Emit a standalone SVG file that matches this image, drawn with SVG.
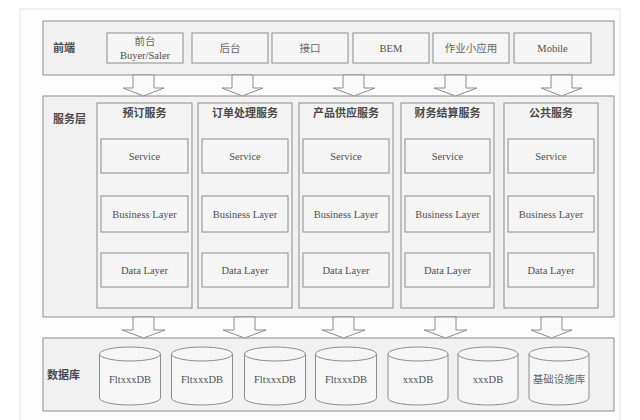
<svg xmlns="http://www.w3.org/2000/svg" width="640" height="420" viewBox="0 0 640 420">
<style>
.layer{fill:#f1f1f1;stroke:#8c8c8c;stroke-width:1}
.col{fill:#f3f3f3;stroke:#8c8c8c;stroke-width:1}
.box{fill:#f5f5f5;stroke:#8c8c8c;stroke-width:1}
.arrow{fill:#fafafa;stroke:#8c8c8c;stroke-width:1;stroke-linejoin:miter}
.cyl{fill:#f6f6f6;stroke:#8c8c8c;stroke-width:1}
.t{font-family:"Liberation Serif","Noto Sans CJK SC",serif;font-size:10.5px;fill:#505050;text-anchor:middle}
.cn{font-family:"Noto Sans CJK SC",sans-serif;font-size:10.5px;fill:#666;text-anchor:middle}
.h{font-family:"Noto Sans CJK SC",sans-serif;font-size:11px;font-weight:bold;fill:#4a4a4a;text-anchor:middle}
.lbl{font-family:"Noto Sans CJK SC",sans-serif;font-size:11px;font-weight:bold;fill:#4a4a4a}
</style>
<rect width="640" height="420" fill="#ffffff"/>
<rect x="20" y="9" width="600" height="420" fill="#fdfdfd" stroke="#e2e2e2" stroke-width="1"/>

<g id="frontend">
<rect class="layer" x="43" y="21" width="571" height="54"/>
<text class="lbl" x="53" y="52">前端</text>
<g id="fe-qiantai"><rect class="box" x="107" y="33" width="76" height="30"/><text class="cn" x="145" y="45">前台</text><text class="t" x="145" y="59">Buyer/Saler</text></g>
<g id="fe-houtai"><rect class="box" x="192" y="33" width="76" height="30"/><text class="cn" x="230" y="52">后台</text></g>
<g id="fe-jiekou"><rect class="box" x="272" y="33" width="76" height="30"/><text class="cn" x="310" y="52">接口</text></g>
<g id="fe-bem"><rect class="box" x="353" y="33" width="76" height="30"/><text class="t" x="391" y="52">BEM</text></g>
<g id="fe-zuoye"><rect class="box" x="433" y="33" width="76" height="30"/><text class="cn" x="471" y="52">作业小应用</text></g>
<g id="fe-mobile"><rect class="box" x="514" y="33" width="77" height="30"/><text class="t" x="552.5" y="52">Mobile</text></g>
</g>

<g id="service-layer">
<rect class="layer" x="43" y="96" width="571" height="221"/>
<text class="lbl" x="53" y="123">服务层</text>
<g id="svc-yuding">
<rect class="col" x="97" y="103" width="95" height="205"/>
<text class="h" x="144.5" y="117">预订服务</text>
<rect class="box" x="101" y="139" width="87" height="34"/><text class="t" x="144.5" y="160">Service</text>
<rect class="box" x="101" y="196" width="87" height="36"/><text class="t" x="144.5" y="218">Business Layer</text>
<rect class="box" x="101" y="253" width="87" height="34"/><text class="t" x="144.5" y="274">Data Layer</text>
</g>
<g id="svc-dingdan">
<rect class="col" x="198" y="103" width="94" height="205"/>
<text class="h" x="245" y="117">订单处理服务</text>
<rect class="box" x="202" y="139" width="86" height="34"/><text class="t" x="245" y="160">Service</text>
<rect class="box" x="202" y="196" width="86" height="36"/><text class="t" x="245" y="218">Business Layer</text>
<rect class="box" x="202" y="253" width="86" height="34"/><text class="t" x="245" y="274">Data Layer</text>
</g>
<g id="svc-chanpin">
<rect class="col" x="299" y="103" width="94" height="205"/>
<text class="h" x="346" y="117">产品供应服务</text>
<rect class="box" x="303" y="139" width="86" height="34"/><text class="t" x="346" y="160">Service</text>
<rect class="box" x="303" y="196" width="86" height="36"/><text class="t" x="346" y="218">Business Layer</text>
<rect class="box" x="303" y="253" width="86" height="34"/><text class="t" x="346" y="274">Data Layer</text>
</g>
<g id="svc-caiwu">
<rect class="col" x="401" y="103" width="93" height="205"/>
<text class="h" x="447.5" y="117">财务结算服务</text>
<rect class="box" x="405" y="139" width="85" height="34"/><text class="t" x="447.5" y="160">Service</text>
<rect class="box" x="405" y="196" width="85" height="36"/><text class="t" x="447.5" y="218">Business Layer</text>
<rect class="box" x="405" y="253" width="85" height="34"/><text class="t" x="447.5" y="274">Data Layer</text>
</g>
<g id="svc-gonggong">
<rect class="col" x="504" y="103" width="94" height="205"/>
<text class="h" x="551" y="117">公共服务</text>
<rect class="box" x="508" y="139" width="86" height="34"/><text class="t" x="551" y="160">Service</text>
<rect class="box" x="508" y="196" width="86" height="36"/><text class="t" x="551" y="218">Business Layer</text>
<rect class="box" x="508" y="253" width="86" height="34"/><text class="t" x="551" y="274">Data Layer</text>
</g>
</g>

<g id="database-layer">
<rect class="layer" x="43" y="338" width="571" height="73"/>
<text class="lbl" x="47" y="379">数据库</text>
<g id="db1"><path class="cyl" d="M99.5,354 v44 a30.5,7 0 0 0 61,0 v-44"/><ellipse class="cyl" cx="130" cy="354" rx="30.5" ry="7"/><text class="t" x="130" y="383">FltxxxDB</text></g>
<g id="db2"><path class="cyl" d="M171.5,354 v44 a30.5,7 0 0 0 61,0 v-44"/><ellipse class="cyl" cx="202" cy="354" rx="30.5" ry="7"/><text class="t" x="202" y="383">FltxxxDB</text></g>
<g id="db3"><path class="cyl" d="M244.5,354 v44 a30.5,7 0 0 0 61,0 v-44"/><ellipse class="cyl" cx="275" cy="354" rx="30.5" ry="7"/><text class="t" x="275" y="383">FltxxxDB</text></g>
<g id="db4"><path class="cyl" d="M315.5,354 v44 a30.5,7 0 0 0 61,0 v-44"/><ellipse class="cyl" cx="346" cy="354" rx="30.5" ry="7"/><text class="t" x="346" y="383">FltxxxDB</text></g>
<g id="db5"><path class="cyl" d="M388,354 v44 a30,7 0 0 0 60,0 v-44"/><ellipse class="cyl" cx="418" cy="354" rx="30" ry="7"/><text class="t" x="418" y="383">xxxDB</text></g>
<g id="db6"><path class="cyl" d="M458,354 v44 a30,7 0 0 0 60,0 v-44"/><ellipse class="cyl" cx="488" cy="354" rx="30" ry="7"/><text class="t" x="488" y="383">xxxDB</text></g>
<g id="db7"><path class="cyl" d="M529,354 v44 a30,7 0 0 0 60,0 v-44"/><ellipse class="cyl" cx="559" cy="354" rx="30" ry="7"/><text class="cn" x="559" y="383">基础设施库</text></g>
</g>

<g id="connectors">
<polygon class="arrow" points="133,75 154,75 154,88 164,88 143.5,96 123,88 133,88"/>
<polygon class="arrow" points="232,75 253,75 253,88 263,88 242.5,96 222,88 232,88"/>
<polygon class="arrow" points="343,75 364,75 364,88 375,88 354,96 333,88 343,88"/>
<polygon class="arrow" points="445,75 466,75 466,88 477,88 455.5,96 434,88 445,88"/>
<polygon class="arrow" points="551,75 572,75 572,88 582,88 561.5,96 541,88 551,88"/>
<polygon class="arrow" points="133,317 154,317 154,330 165,330 143.5,338 122,330 133,330"/>
<polygon class="arrow" points="234,317 255,317 255,330 266,330 244.5,338 223,330 234,330"/>
<polygon class="arrow" points="333,317 354,317 354,330 365,330 343.5,338 322,330 333,330"/>
<polygon class="arrow" points="435,317 456,317 456,330 467,330 445.5,338 424,330 435,330"/>
<polygon class="arrow" points="541,317 562,317 562,330 572,330 551.5,338 531,330 541,330"/>
</g>
</svg>
